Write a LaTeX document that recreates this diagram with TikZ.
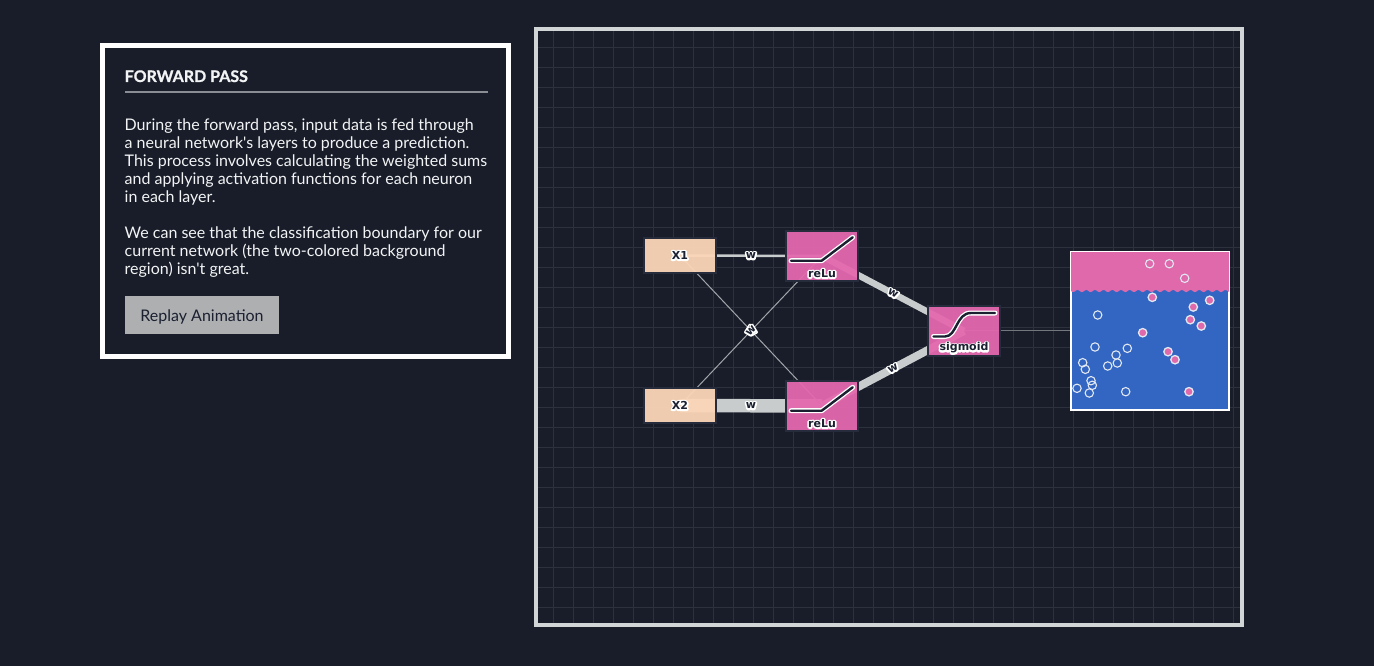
\documentclass[tikz,border=0pt]{standalone}
\usepackage{fontspec}
\newfontfamily\bodyfont{Lato}
\setmainfont{Lato}
\newfontfamily\labfont{DejaVu Sans}[BoldFont={DejaVu Sans Bold}]
\usetikzlibrary{backgrounds}
\definecolor{pagebg}{HTML}{181D29}
\definecolor{gridc}{HTML}{2C313D}
\definecolor{framec}{HTML}{D2D5D6}
\definecolor{edgec}{HTML}{C8CCCC}
\definecolor{thinc}{HTML}{A2A5A9}
\definecolor{faintc}{HTML}{74777E}
\definecolor{rulec}{HTML}{8A8D93}
\definecolor{nodeedge}{HTML}{262C3B}
\definecolor{pinknode}{HTML}{E469AF}
\definecolor{peach}{HTML}{FBD6B7}
\definecolor{plotpink}{HTML}{DF69AB}
\definecolor{plotblue}{HTML}{3366C2}
\definecolor{btnc}{HTML}{AEAFB1}
\definecolor{ink}{HTML}{1A2030}
\definecolor{ringc}{HTML}{E2E8F2}
\definecolor{textc}{HTML}{F2F3F4}
\newcommand{\halotext}[1]{\leavevmode\rlap{\special{pdf:code q 2 Tr 3.2 w 1 J 1 j 1 1 1 RG 1 1 1 rg}#1\special{pdf:code Q}}#1}
\tikzset{
  inputbox/.style={rectangle,draw=nodeedge,line width=2pt,fill=peach,fill opacity=.95,draw opacity=1,text opacity=1,minimum width=72pt,minimum height=35pt,inner sep=0pt,outer sep=0pt,text=ink,font=\labfont\bfseries\fontsize{11}{12}\selectfont},
  neuron/.style={rectangle,draw=nodeedge,line width=2pt,fill=pinknode,fill opacity=.94,draw opacity=1,text opacity=1,minimum width=72pt,minimum height=50pt,inner sep=0pt,outer sep=0pt},
  neuronlabel/.style={inner sep=0pt,text=ink,font=\labfont\bfseries\fontsize{11}{12}\selectfont},
  conn/.style={draw=edgec},
  thinconn/.style={draw=thinc,line width=1pt},
  wlabel/.style={midway,sloped,inner sep=0pt,text=ink,font=\labfont\bfseries\fontsize{11}{12}\selectfont},
  curveout/.style={line width=5pt,draw=white,line cap=round,line join=round},
  curvein/.style={line width=2.4pt,draw=ink,line cap=round,line join=round},
  hollowpt/.style={draw=ringc,line width=1.1pt},
  filledpt/.style={draw=ringc,fill=plotpink,line width=1.3pt}
}
\begin{document}
\begin{tikzpicture}[x=1pt,y=-1pt]
\useasboundingbox (0,0) rectangle (1374,666);
\begin{pgfonlayer}{background}
\fill[pagebg] (0,0) rectangle (1374,666);
\foreach \gx in {553.5,573.5,...,1233.5} \draw[gridc,line width=1pt] (\gx,29) -- (\gx,625);
\foreach \gy in {47.5,67.5,...,607.5} \draw[gridc,line width=1pt] (536,\gy) -- (1242,\gy);
\end{pgfonlayer}

% text panel
\node[draw=white,line width=5pt,fill=pagebg,minimum width=406pt,minimum height=311pt,inner sep=0pt,outer sep=0pt] (panel) at (305.5,201) {};
\node[anchor=base west,inner sep=0pt,text=textc,font=\bodyfont\bfseries\fontsize{16}{18}\selectfont\addfontfeature{FakeBold=1}] (title) at (124.5,82) {FORWARD PASS};
\coordinate (ruleA) at (125,92);
\coordinate (ruleB) at (488,92);
\draw[color=rulec,line width=1.5pt] (ruleA) -- (ruleB);
\node[anchor=north west,inner sep=0pt,align=left,text=textc,font=\bodyfont\fontsize{16}{18}\selectfont] (body) at (124.5,119) {During the forward pass, input data is fed through\\a neural network's layers to produce a prediction.\\This process involves calculating the weighted sums\\and applying activation functions for each neuron\\in each layer.\\[18pt]We can see that the classification boundary for our\\current network (the two-colored background\\region) isn't great.};
\node[rectangle,fill=btnc,minimum width=154pt,minimum height=38pt,inner sep=0pt,text=ink,font=\bodyfont\fontsize{16}{18}\selectfont,text depth=0pt] (replay) at (202,315) {\raisebox{-1pt}{Replay Animation}};

% network frame
\node[draw=framec,line width=4pt,minimum width=706pt,minimum height=596pt,inner sep=0pt,outer sep=0pt] (frame) at (889,327) {};

% nodes
\node[inputbox] (x1) at (680,255.5) {\halotext{X1}};
\node[inputbox] (x2) at (680,405.5) {\halotext{X2}};
\node[neuron] (relu1) at (822,256) {};
\node[neuron] (relu2) at (822,406) {};
\node[neuron] (sig) at (964,331) {};
\node[rectangle,draw=white,line width=2pt,fill=plotblue,minimum width=158pt,minimum height=158pt,inner sep=0pt,outer sep=0pt] (plotbox) at (1150,331) {};

% connectors run beneath the translucent boxes
\begin{pgfonlayer}{background}
\draw[conn,line width=2.5pt] (x1.center) -- node[wlabel] {\halotext{w}} (relu1.center);
\draw[conn,line width=13.5pt] (x2.center) -- node[wlabel] {\halotext{w}} (relu2.center);
\draw[thinconn] (x1.center) -- node[wlabel] {\halotext{w}} (relu2.center);
\draw[thinconn] (x2.center) -- node[wlabel] {\halotext{w}} (relu1.center);
\draw[conn,line width=6.5pt] (relu1.center) -- node[wlabel] {\halotext{w}} (sig.center);
\draw[conn,line width=8pt] (relu2.center) -- node[wlabel] {\halotext{w}} (sig.center);
\draw[draw=faintc,line width=1pt] ([yshift=0.6pt]sig.center) -- ([yshift=0.6pt]plotbox.center);
\end{pgfonlayer}

% activation curves
\draw[curveout] (791,260.7) -- (821.7,260.7) -- (852.7,237.3);
\draw[curvein] (791,260.7) -- (821.7,260.7) -- (852.7,237.3);
\draw[curveout] (791,410.7) -- (821.7,410.7) -- (852.7,387.3);
\draw[curvein] (791,410.7) -- (821.7,410.7) -- (852.7,387.3);
\draw[curveout] (933.5,336.5) -- (945,336.5) .. controls (957,336.5) and (956,313) .. (971,313) -- (995,313);
\draw[curvein] (933.5,336.5) -- (945,336.5) .. controls (957,336.5) and (956,313) .. (971,313) -- (995,313);
\node[neuronlabel] (relu1t) at (822,273.5) {\halotext{reLu}};
\node[neuronlabel] (relu2t) at (822,423.5) {\halotext{reLu}};
\node[neuronlabel] (sigt) at (964,348) {\halotext{sigmoid}};

% classification plot
\begin{scope}
\clip (1071,252) rectangle (1229,410);
\fill[plotpink] (1071,252) -- (1229,252) -- plot[domain=158:0,samples=120] ({1071+\x},{291+1.1*sin(\x*41.4)}) -- cycle;
\end{scope}
\foreach \px/\py in {1149.7/263.7,1169.3/263.7,1184.7/278.3,1097.7/315,1095/347,1127.3/348.3,1116/355,1117.3/363,1107.7/366,1082.7/362.7,1085.3/369.3,1091/380.7,1092.3/385.3,1077/388.3,1089.3/393,1125.7/391.7}
  \draw[hollowpt] (\px,\py) circle[radius=4.2];
\foreach \px/\py in {1152.3/297.3,1193.3/307,1209.7/300.3,1190.3/319.7,1201.3/326,1142.7/332.7,1168/351.7,1175/359.7,1189/391.7}
  \draw[filledpt] (\px,\py) circle[radius=4.2];
\end{tikzpicture}
\end{document}
